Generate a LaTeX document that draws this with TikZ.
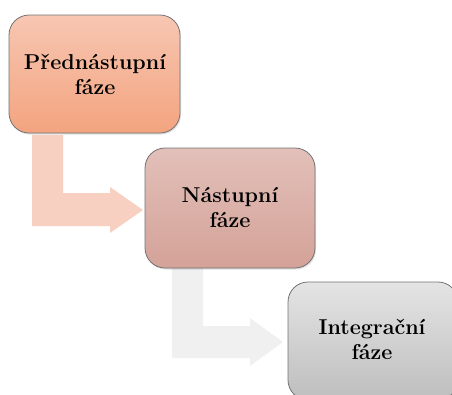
\documentclass[tikz,border=0pt]{standalone}
\usetikzlibrary{shadows}
\begin{document}
\begin{tikzpicture}[x=1pt,y=-1pt,
  phase/.style={rounded corners=20pt, draw=black!55, line width=0.8pt,
    drop shadow={shadow xshift=1pt, shadow yshift=-1.5pt, opacity=0.25}},
  phasetext/.style={font=\rmfamily\bfseries\fontsize{21.5}{25}\selectfont, align=center, text=black}]
\definecolor{pinkA}{HTML}{F7C6B2}
\definecolor{pinkB}{HTML}{F3A47F}
\definecolor{roseA}{HTML}{E2C0B9}
\definecolor{roseB}{HTML}{D4A298}
\definecolor{greyA}{HTML}{E4E4E4}
\definecolor{greyB}{HTML}{BEBEBE}
\definecolor{arrowpink}{HTML}{F8D0C2}
\definecolor{arrowgrey}{HTML}{F0F0F0}
\useasboundingbox (0,0) rectangle (452,394);
\clip (0,0) rectangle (452,394);

% bent arrows between the phases
\fill[arrowpink] (32,135) -- (63,135) -- (63,193) -- (110,193) -- (110,187)
  -- (143,210) -- (110,233) -- (110,226) -- (32,226) -- cycle;
\fill[arrowgrey] (172,268) -- (203,268) -- (203,326) -- (250,326) -- (250,318)
  -- (283,342) -- (250,366) -- (250,358) -- (172,358) -- cycle;

% phase boxes
\draw[phase, top color=pinkA, bottom color=pinkB] (9,15) rectangle (180,133);
\node[phasetext] (p1) at (95,74) {Přednástupní\\fáze};

\draw[phase, top color=roseA, bottom color=roseB] (145,148) rectangle (315,268);
\node[phasetext] (p2) at (230,207) {Nástupní\\fáze};

\draw[phase, top color=greyA, bottom color=greyB] (288,282) rectangle (458,400);
\node[phasetext] (p3) at (372,339) {Integrační\\fáze};
\end{tikzpicture}
\end{document}
